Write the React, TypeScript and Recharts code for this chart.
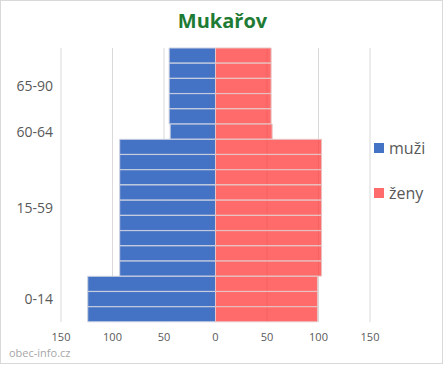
import React from 'react'
import { BarChart, Bar, XAxis, YAxis, CartesianGrid, Legend } from 'recharts'

// rows top to bottom
const bands = [
  '85-90', '80-84', '75-79', '70-74', '65-69',
  '60-64',
  '55-59', '50-54', '45-49', '40-44', '35-39', '30-34', '25-29', '20-24', '15-19',
  '10-14', '5-9', '0-4',
]
const groupLabels = [
  '', '', '65-90', '', '',
  '60-64',
  '', '', '', '', '15-59', '', '', '', '',
  '', '0-14', '',
]
const muzi = [45, 45, 45, 45, 45, 44, 93, 93, 93, 93, 93, 93, 93, 93, 93, 124, 124, 124]
const zeny = [54, 54, 54, 54, 54, 55, 103, 103, 103, 103, 103, 103, 103, 103, 103, 99, 99, 99]
const xTicks = [-150, -100, -50, 0, 50, 100, 150]

const data = bands.map((band, i) => ({
  band,
  muži: -muzi[i],
  ženy: zeny[i],
}))

const font = '"Open Sans", sans-serif'
const swatch: Record<string, string> = { muži: '#4472c4', ženy: '#ff6b6b' }

const LegendBox = (props: any) => {
  const items = props.payload || []
  return (
    <div style={{ fontFamily: font }}>
      {items.map((it: any) => (
        <div key={it.value} style={{ display: 'flex', alignItems: 'center', height: 22, marginBottom: 23 }}>
          <span style={{ width: 10, height: 10, background: swatch[it.value] || it.color, display: 'inline-block', marginRight: 5 }} />
          <span style={{ fontSize: 16, color: '#595959' }}>{it.value}</span>
        </div>
      ))}
    </div>
  )
}

const App = () => {
  return (
    <div
      style={{
        position: 'absolute',
        left: 0,
        top: 0,
        width: 443,
        height: 364,
        boxSizing: 'border-box',
        border: '1px solid #d9d9d9',
        background: '#fff',
        fontFamily: font,
      }}
    >
      <div
        style={{
          position: 'absolute',
          top: 6,
          left: 0,
          width: 443,
          textAlign: 'center',
          fontSize: 20,
          fontWeight: 700,
          color: '#1e7b34',
        }}
      >
        Mukařov
      </div>
      <div style={{ position: 'absolute', top: -1, left: -1 }}>
        <BarChart
          width={443}
          height={365}
          data={data}
          layout="vertical"
          stackOffset="sign"
          barCategoryGap={0}
          margin={{ top: 48, right: 3, bottom: 13, left: 1 }}
        >
          <CartesianGrid horizontal={false} stroke="#d9d9d9" />
          <XAxis
            type="number"
            domain={[-150, 150]}
            ticks={xTicks}
            tickFormatter={(v: number) => String(Math.abs(v))}
            axisLine={false}
            tickLine={false}
            tickMargin={5}
            tick={{ fontSize: 11, fill: '#595959', fontFamily: font }}
          />
          <YAxis
            type="category"
            dataKey="band"
            width={60}
            interval={0}
            tickFormatter={(_v: string, i: number) => groupLabels[i]}
            axisLine={false}
            tickLine={false}
            tick={{ fontSize: 14, fill: '#595959', fontFamily: font }}
          />
          <Legend
            layout="vertical"
            align="right"
            verticalAlign="top"
            wrapperStyle={{ top: 137, left: 374, width: 70 }}
            content={<LegendBox />}
          />
          <Bar dataKey="muži" stackId="a" fill="#4472c4" stroke="#c9cfe0" strokeWidth={1} isAnimationActive={false} />
          <Bar dataKey="ženy" stackId="a" fill="#ff3a3a" fillOpacity={0.75} stroke="#e8c4c4" strokeWidth={1} isAnimationActive={false} />
        </BarChart>
      </div>
      <div style={{ position: 'absolute', left: 8, top: 344, fontSize: 11, color: '#a6a6a6' }}>obec-info.cz</div>
    </div>
  )
}

export default App
